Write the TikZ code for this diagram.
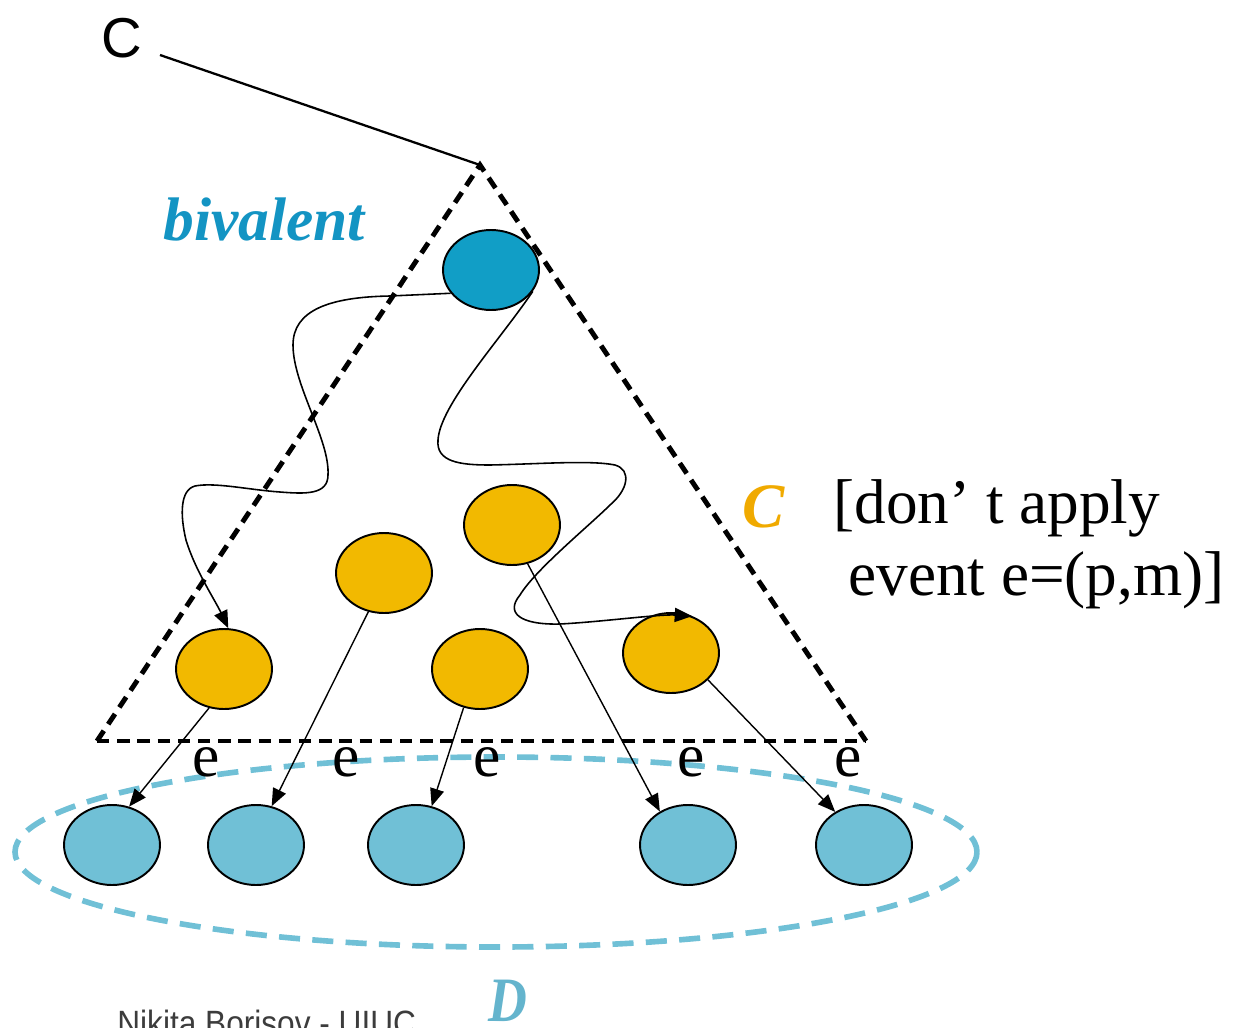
\documentclass[tikz,border=0pt]{standalone}
\usepackage{fontspec}
\setmainfont{Liberation Serif}
\newfontfamily\arialfont{Liberation Sans}
\usetikzlibrary{shapes.geometric,arrows.meta}
\definecolor{bivblue}{RGB}{17,158,198}
\definecolor{dblue}{RGB}{112,192,214}
\definecolor{cyel}{RGB}{242,185,0}
\definecolor{ctext}{RGB}{240,170,0}
\definecolor{bivtext}{RGB}{19,148,195}
\definecolor{dtext}{RGB}{100,180,205}
\definecolor{foot}{RGB}{60,60,60}
\begin{document}
\begin{tikzpicture}[x=0.02cm,y=-0.02cm,
  state/.style={ellipse,draw=black,line width=1.1pt,minimum width=1.92cm,minimum height=1.6cm,inner sep=0pt},
  topstate/.style={state,fill=bivblue},
  ystate/.style={state,fill=cyel},
  dstate/.style={state,fill=dblue},
  conn/.style={line width=0.8pt,-{Triangle[length=10pt,width=8pt]}},
  wave/.style={line width=0.9pt,-{Triangle[length=10pt,width=8pt]}},
  tri/.style={line width=2.8pt,dash pattern=on 7pt off 4.5pt},
  dset/.style={draw=dblue,line width=3.2pt,dash pattern=on 12pt off 7pt},
  elabel/.style={anchor=base,inner sep=0pt,font=\fontsize{35}{40}\selectfont},
  txt/.style={anchor=base west,inner sep=0pt}]
\useasboundingbox (0,0) rectangle (1235,1028);

% D set
\draw[dset] (496,852) ellipse [x radius=481, y radius=95];

% states
\node[topstate] (b0) at (491,270) {};
\node[ystate] (oA) at (224,669) {};
\node[ystate] (oB) at (384,573) {};
\node[ystate] (oC) at (512,525) {};
\node[ystate] (oD) at (480,669) {};
\node[ystate] (oE) at (671,653) {};
\node[dstate] (d1) at (112,845) {};
\node[dstate] (d2) at (256,845) {};
\node[dstate] (d3) at (416,845) {};
\node[dstate] (d4) at (688,845) {};
\node[dstate] (d5) at (864,845) {};

% triangle
\coordinate (apex) at (480,165);
\coordinate (bl) at (97,741);
\coordinate (br) at (866,741);
\draw[tri] (bl) -- (apex) -- (br);
\draw[tri] (bl) -- (br);

% C label and line
\node[inner sep=0pt,font=\arialfont\fontsize{32}{36}\selectfont] (clab) at (122,38) {C};
\coordinate (cstart) at (160,55);
\draw[line width=1.3pt] (cstart) -- (apex);

% wavy paths
\draw[wave] (b0.210) -- (390,296)
  .. controls (330,297) and (293,310) .. (293,345)
  .. controls (293,385) and (330,440) .. (328,475)
  .. controls (328,495) and (305,494) .. (280,492)
  .. controls (250,490) and (215,482) .. (195,486)
  .. controls (180,490) and (180,515) .. (186,540)
  .. controls (195,570) and (215,600) .. (oA.84);
\draw[wave] (b0.333)
  .. controls (500,340) and (440,405) .. (438,440)
  .. controls (436,462) and (460,465) .. (490,465)
  .. controls (540,464) and (590,460) .. (615,465)
  .. controls (632,470) and (628,490) .. (610,505)
  .. controls (590,525) and (535,570) .. (520,595)
  .. controls (505,613) and (520,625) .. (560,624)
  .. controls (600,622) and (660,614) .. (oE.60);

% e arrows
\draw[conn] (oA.249) -- (d1.66);
\draw[conn] (oB.248) -- (d2.68);
\draw[conn] (oD.247) -- (d3.68);
\draw[conn] (oC.292) -- (d4.130);
\draw[conn] (oE.324) -- (d5.131);

% e labels
\node[elabel] (e1) at (206,776) {e};
\node[elabel] (e2) at (346,776) {e};
\node[elabel] (e3) at (487,776) {e};
\node[elabel] (e4) at (691,776) {e};
\node[elabel] (e5) at (848,776) {e};

% texts
\node[txt,text=bivtext,font=\fontsize{35}{40}\selectfont\bfseries\itshape] (biv) at (163,240) {bivalent};
\node[txt,text=ctext,font=\fontsize{36}{40}\selectfont\bfseries\itshape] (cset) at (742,527) {C};
\node[txt,font=\fontsize{36}{40}\selectfont] (t1) at (833,523) {[don’ t apply};
\node[txt,font=\fontsize{36}{40}\selectfont] (t2) at (848,595) {event e=(p,m)]};
\node[anchor=base,inner sep=0pt,text=dtext,font=\fontsize{36}{40}\selectfont\bfseries\itshape] (dset) at (508,1021) {\scalebox{0.85}[1]{D}};
\node[txt,text=foot,font=\arialfont\fontsize{20}{24}\selectfont] (foot) at (117,1035) {\scalebox{0.9}[1]{Nikita Borisov - UIUC}};
\end{tikzpicture}
\end{document}
